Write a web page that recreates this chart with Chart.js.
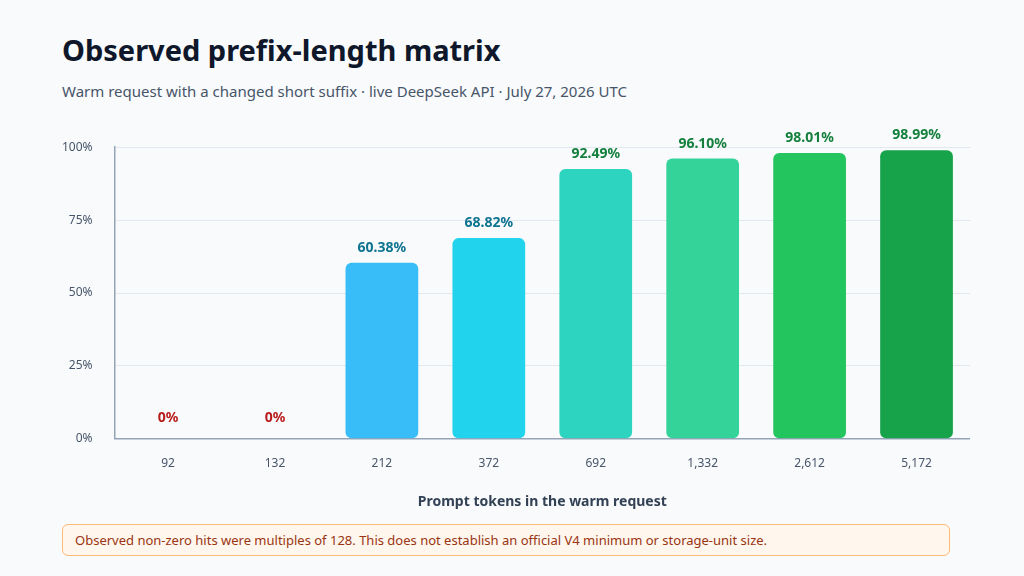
<!DOCTYPE html>
<html>
<head>
<meta charset="utf-8">
<script src="https://cdn.jsdelivr.net/npm/chart.js@4"></script>
<style>
  body { margin: 0; width: 1024px; height: 576px; background: #f8fafc; font-family: "Noto Sans", sans-serif; position: relative; overflow: hidden; }
  h1 { position: absolute; left: 62px; top: 30px; margin: 0; font-size: 29px; font-weight: 700; color: #0f172a; }
  .sub { position: absolute; left: 62px; top: 81px; font-size: 15px; color: #475569; }
  .wrap { position: absolute; left: 40px; top: 118px; width: 930px; height: 396px; }
  .note { position: absolute; left: 62px; top: 524px; width: 874px; height: 30px; line-height: 30px; padding-left: 12px; box-sizing: content-box;
    background: #fff7ed; border: 1px solid #fdba74; border-radius: 6px; color: #9a3412; font-size: 13px; }
</style>
</head>
<body>
<h1>Observed prefix-length matrix</h1>
<div class="sub">Warm request with a changed short suffix · live DeepSeek API · July 27, 2026 UTC</div>
<div class="wrap"><canvas id="chart"></canvas></div>
<div class="note">Observed non-zero hits were multiples of 128. This does not establish an official V4 minimum or storage-unit size.</div>
<script>
const promptTokens = ["92", "132", "212", "372", "692", "1,332", "2,612", "5,172"]
const hitRates = [0, 0, 60.38, 68.82, 92.49, 96.10, 98.01, 98.99]
const yTicks = [0, 25, 50, 75, 100]

const barColors = ["#38bdf8", "#38bdf8", "#38bdf8", "#22d3ee", "#2dd4bf", "#34d399", "#22c55e", "#16a34a"]

/** @type {(v: number) => string} */
const labelColor = (v) => (v === 0 ? "#b91c1c" : v < 90 ? "#0e7490" : "#15803d")

const valueLabels = {
  id: "valueLabels",
  afterDatasetsDraw(chart) {
    const ctx = chart.ctx
    const meta = chart.getDatasetMeta(0)
    ctx.save()
    ctx.font = "bold 14px 'Noto Sans'"
    ctx.textAlign = "center"
    ctx.textBaseline = "bottom"
    meta.data.forEach((bar, i) => {
      const v = hitRates[i]
      ctx.fillStyle = labelColor(v)
      const text = v === 0 ? "0%" : v.toFixed(2) + "%"
      const y = v === 0 ? bar.y - 14 : bar.y - 8
      ctx.fillText(text, bar.x, y)
    })
    ctx.restore()
  },
}

new Chart(document.getElementById("chart").getContext("2d"), {
  type: "bar",
  data: {
    labels: promptTokens,
    datasets: [{
      data: hitRates,
      backgroundColor: barColors,
      borderRadius: 6,
      borderSkipped: false,
      categoryPercentage: 0.68,
      barPercentage: 1,
    }],
  },
  options: {
    animation: false,
    responsive: true,
    maintainAspectRatio: false,
    layout: {padding: {top: 18}},
    plugins: {legend: {display: false}, tooltip: {enabled: false}},
    scales: {
      x: {
        grid: {display: false},
        border: {color: "#94a3b8", width: 1.5},
        ticks: {color: "#475569", font: {family: "Noto Sans", size: 12}, padding: 10},
        title: {display: true, text: "Prompt tokens in the warm request", color: "#334155",
          font: {family: "Noto Sans", size: 14, weight: "bold"}, padding: {top: 12}},
      },
      y: {
        min: 0, max: 100,
        afterBuildTicks: (axis) => { axis.ticks = yTicks.map((v) => ({value: v})) },
        grid: {color: "#e2e8f0", drawTicks: false},
        border: {color: "#94a3b8", width: 1.5, dash: [0, 0]},
        ticks: {color: "#475569", font: {family: "Noto Sans", size: 12}, padding: 22, callback: (v) => v + "%"},
      },
    },
  },
  plugins: [valueLabels],
})
</script>
</body>
</html>
